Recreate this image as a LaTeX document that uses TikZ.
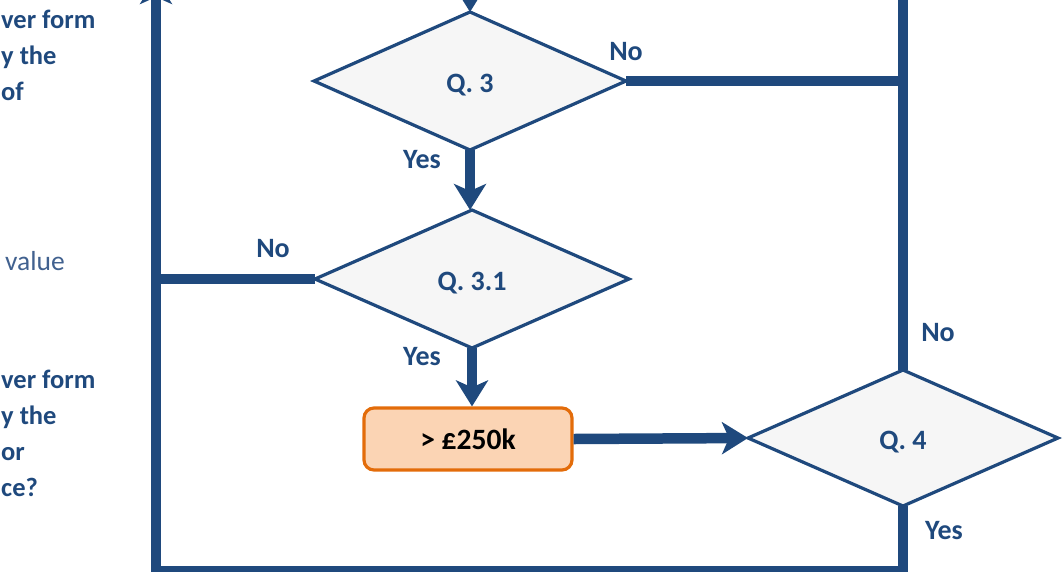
\documentclass[tikz,border=0pt]{standalone}
\usepackage{fontspec}
\setmainfont{Carlito}
\usetikzlibrary{shapes.geometric,arrows.meta}

\definecolor{flowblue}{HTML}{1F497D}
\definecolor{notegrey}{HTML}{41618F}
\definecolor{decfill}{HTML}{F6F6F6}
\definecolor{boxfill}{HTML}{FBD4B4}
\definecolor{boxedge}{HTML}{E36C0A}

\tikzset{
  decision/.style={diamond, draw=flowblue, line width=3.2pt, fill=decfill,
    inner sep=0pt, outer sep=0pt, text=flowblue,
    font=\fontsize{28}{33}\selectfont\bfseries,
    text height=22pt, text depth=0pt},
  amountbox/.style={rectangle, rounded corners=10pt, draw=boxedge, line width=3.2pt,
    fill=boxfill, minimum width=208pt, minimum height=62pt, inner sep=0pt,
    font=\fontsize{29.5}{34}\selectfont\bfseries, text=black},
  link/.style={draw=flowblue, line width=10.5pt, line join=miter},
  flow/.style={link, -{Stealth[length=26pt, width=32pt, inset=7pt]}},
  answer/.style={text=flowblue, font=\fontsize{28}{33}\selectfont\bfseries, inner sep=0pt},
  sidetext/.style={anchor=base west, inner sep=0pt, text=flowblue,
    font=\fontsize{26.5}{33}\selectfont\bfseries},
  sidenote/.style={anchor=base west, inner sep=0pt, text=notegrey,
    font=\fontsize{27.5}{33}\selectfont},
}

\begin{document}
\begin{tikzpicture}[x=1pt, y=-1pt]
  \useasboundingbox (0,0) rectangle (1064,571);
  \clip (0,0) rectangle (1064,571);

  % question text running in from the left column
  \node[sidetext] (s1) at (1,28)   {ver form};
  \node[sidetext] (s2) at (1,64)   {y the};
  \node[sidetext] (s3) at (1,100)  {of};
  \node[sidenote] (s4) at (5,270)  {value};
  \node[sidetext] (s5) at (1,388)  {ver form};
  \node[sidetext] (s6) at (1,424)  {y the};
  \node[sidetext] (s7) at (1,460)  {or};
  \node[sidetext] (s8) at (1,496)  {ce?};

  % decisions and outcome box
  \node[decision, minimum width=312pt, minimum height=138pt] (q3)  at (470,81)  {Q. 3};
  \node[decision, minimum width=314pt, minimum height=138pt] (q31) at (472,279) {Q. 3.1};
  \node[decision, minimum width=310pt, minimum height=136pt] (q4)  at (903,438) {Q. 4};
  \node[amountbox] (amt) at (468,439) {> £250k};

  % free ends beyond the visible frame
  \coordinate (intop) at (470,-40);
  \coordinate (rtop)  at (903,-20);
  \coordinate (ltop)  at (156,-22);
  \coordinate (lbot)  at (156,571);

  % connectors
  \draw[flow] (intop) -- (q3.north);
  \draw[flow] (q3.south) -- (q3.south |- q31.north);
  \draw[flow] (q31.south) -- (q31.south |- amt.north);
  \draw[flow] (amt.east) -- (q4.west);
  \draw[link] (q3.east) -- (q3.east -| q4.north);
  \draw[link] (q4.north) -- (rtop);
  \draw[link] (q31.west) -- (q31.west -| lbot);
  \draw[flow] (q4.south) -- (q4.south |- lbot) -- (lbot) -- (ltop);

  % branch labels
  \node[answer] (n3)  at (626,52)  {No};
  \node[answer] (y3)  at (422,160) {Yes};
  \node[answer] (n31) at (273,249) {No};
  \node[answer] (y31) at (422,357) {Yes};
  \node[answer] (n4)  at (938,333) {No};
  \node[answer] (y4)  at (944,531) {Yes};
\end{tikzpicture}
\end{document}
